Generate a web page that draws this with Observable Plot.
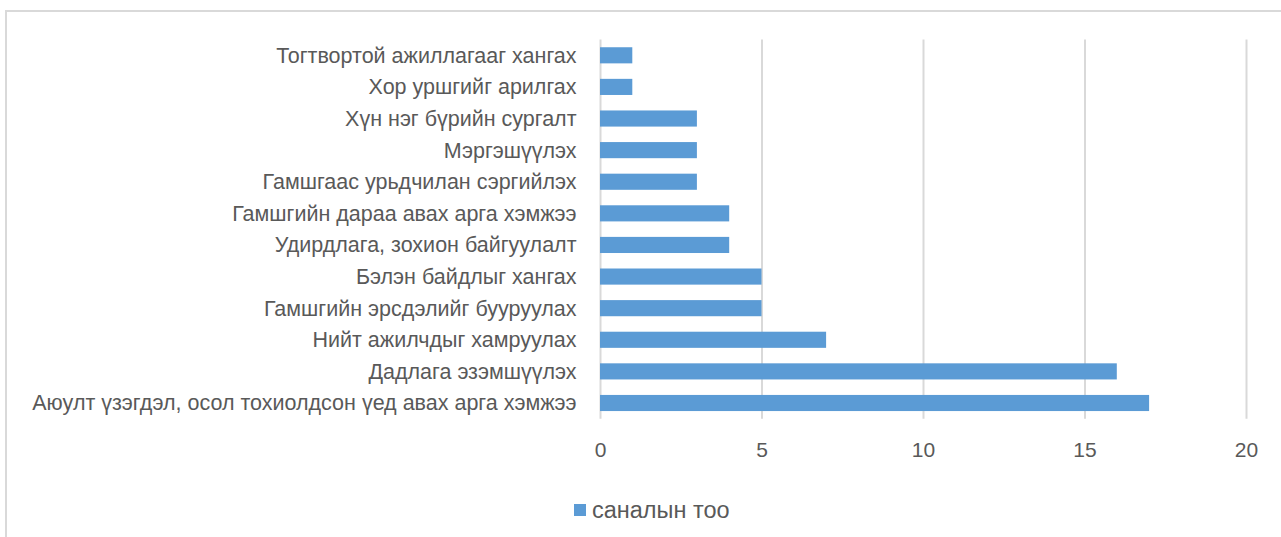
<!DOCTYPE html>
<html>
<head>
<meta charset="utf-8">
<script src="https://cdn.jsdelivr.net/npm/d3@7"></script>
<script src="https://cdn.jsdelivr.net/npm/@observablehq/plot@0.6"></script>
<style>
  html, body { margin: 0; padding: 0; background: #fff; overflow: hidden; }
  body { width: 1281px; height: 537px; position: relative; font-family: "Liberation Sans", Arial, sans-serif; }
  #frame { position: absolute; left: 5px; top: 10px; width: 1300px; height: 560px; border: 2px solid #d9d9d9; box-sizing: border-box; }
  #chart { position: absolute; left: 0; top: 0; }
  #legend { position: absolute; left: 574px; top: 496px; height: 28px; display: flex; align-items: center; font-size: 23.5px; color: #595959; }
  #legend .sw { width: 12px; height: 12px; background: #5b9bd5; margin-right: 6px; }
</style>
</head>
<body>
<div id="frame"></div>
<div id="chart"></div>
<div id="legend"><span class="sw"></span><span id="legend-label"></span></div>
<script>
const categories = [
  "Тогтвортой ажиллагааг хангах",
  "Хор уршгийг арилгах",
  "Хүн нэг бүрийн сургалт",
  "Мэргэшүүлэх",
  "Гамшгаас урьдчилан сэргийлэх",
  "Гамшгийн дараа авах арга хэмжээ",
  "Удирдлага, зохион байгуулалт",
  "Бэлэн байдлыг хангах",
  "Гамшгийн эрсдэлийг бууруулах",
  "Нийт ажилчдыг хамруулах",
  "Дадлага эзэмшүүлэх",
  "Аюулт үзэгдэл, осол тохиолдсон үед авах арга хэмжээ"
];
const values = [1, 1, 3, 3, 3, 4, 4, 5, 5, 7, 16, 17];
const xTicks = [0, 5, 10, 15, 20];
const seriesName = "саналын тоо";

document.getElementById("legend-label").textContent = seriesName;

const data = categories.map((c, i) => ({category: c, value: values[i]}));

const chart = Plot.plot({
  width: 1281,
  height: 480,
  marginLeft: 600,
  marginRight: 35,
  marginTop: 39.5,
  marginBottom: 61.2,
  style: {fontFamily: "'Liberation Sans', Arial, sans-serif", fontSize: "21.5px", color: "#595959", background: "transparent"},
  x: {domain: [0, 20], ticks: xTicks, tickSize: 0, label: null},
  y: {domain: categories, paddingInner: 0.49, paddingOuter: 0.245, round: false, tickSize: 0, label: null},
  marks: [
    Plot.ruleX(xTicks, {stroke: "#d9d9d9", strokeWidth: 2}),
    Plot.barX(data, {x: "value", y: "category", fill: "#5b9bd5"}),
    Plot.axisX({ticks: xTicks, tickSize: 0, tickPadding: 23, fill: "#595959", fontSize: 21, label: null}),
    Plot.axisY({tickSize: 0, tickPadding: 24, fill: "#595959", label: null})
  ]
});
document.getElementById("chart").appendChild(chart);
</script>
</body>
</html>
